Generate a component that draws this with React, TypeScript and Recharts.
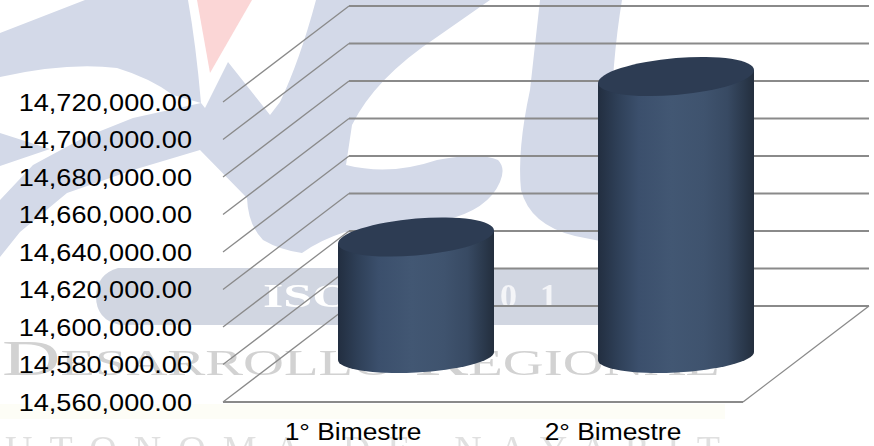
import { BarChart, Bar, XAxis, YAxis, CartesianGrid } from "recharts";

const periods = ["1° Bimestre", "2° Bimestre"];
const amounts = [14622400, 14708000];
const axisTicks = [14560000, 14580000, 14600000, 14620000, 14640000, 14660000, 14680000, 14700000, 14720000];

const chartData = periods.map((period, i) => ({ period, amount: amounts[i] }));

// how far the back wall sits from the front plane
const DEPTH_X = 126;
const DEPTH_Y = 96;
const TEXT_STRETCH = 1.13;

function formatAmount(v: number) {
    return v.toLocaleString("en-US", { minimumFractionDigits: 2, maximumFractionDigits: 2 });
}

function GridLine(props: any) {
    const { x1, x2, y1, y, height } = props;
    const isFloor = Math.abs(y1 - (y + height)) < 1;
    const backY = y1 - DEPTH_Y;
    return (
        <g fill="none" stroke="#8a8a8a">
            <path d={`M${x1} ${y1}L${x1 + DEPTH_X} ${backY}`} strokeWidth={1.3} />
            <path d={`M${x1 + DEPTH_X} ${backY}L${x2 + DEPTH_X} ${backY}`} strokeWidth={2} />
            {isFloor && (
                <>
                    <path d={`M${x1} ${y1}L${x2} ${y1}`} strokeWidth={2} />
                    <path d={`M${x2} ${y1}L${x2 + DEPTH_X} ${backY}`} strokeWidth={1.3} />
                </>
            )}
        </g>
    );
}

function YTick({ x, y, payload }: any) {
    return (
        <text transform={`translate(${x} ${y + 8.5}) scale(${TEXT_STRETCH} 1)`} textAnchor="end" fontSize={24} fontFamily="Liberation Sans" fill="#000">
            {formatAmount(payload.value)}
        </text>
    );
}

function XTick({ x, y, payload }: any) {
    return (
        <text transform={`translate(${x} ${y + 30}) scale(1.1 1)`} textAnchor="middle" fontSize={24} fontFamily="Liberation Sans" fill="#000">
            {payload.value}
        </text>
    );
}

// bars stand halfway into the floor, hence half the depth offset
function Cylinder({ x, y, width, height }: any) {
    const cx = x + width / 2 + DEPTH_X / 2;
    const top = y - DEPTH_Y / 2;
    const bottom = top + height + 2;
    const rx = width / 2;
    const topTilt = -4.8;
    const bottomTilt = -3;
    const topSlope = Math.tan((topTilt * Math.PI) / 180) * rx;
    const bottomSlope = Math.tan((bottomTilt * Math.PI) / 180) * rx;
    return (
        <g>
            <ellipse transform={`translate(${cx} ${bottom}) skewY(${bottomTilt})`} rx={rx} ry={16.5} fill="url(#cylinderSide)" />
            <path
                d={`M${cx - rx} ${top - topSlope}L${cx + rx} ${top + topSlope}L${cx + rx} ${bottom + bottomSlope}L${cx - rx} ${bottom - bottomSlope}Z`}
                fill="url(#cylinderSide)"
            />
            <ellipse transform={`translate(${cx} ${top}) skewY(${topTilt})`} rx={rx} ry={18.4} fill="#2d3c53" />
        </g>
    );
}

// pale logo and lettering behind the plot
function Watermark() {
    return (
        <svg width={874} height={446} style={{ position: "absolute", left: 0, top: 0 }}>
            <defs>
                <filter id="soft">
                    <feGaussianBlur stdDeviation={0.6} />
                </filter>
            </defs>
            <rect x={0} y={404} width={725} height={15} fill="#fdfdf6" />
            <path d="M197 0L252 0L210 73Z" fill="#fbd6d6" />
            <g fill="#d3d9e8">
                <path d="M0 33L85 0L188 0Q196 45 201 103L173 95Q150 78 117 68Q67 62 0 77Z" />
                <path d="M0 133L50 149L0 166Z" />
                <path d="M201 103L205 108L228 62L270 115L280 102Q300 60 316 0L490 0L437 37Q375 78 352 125L346 165Q390 176 437 160Q480 152 498 160Q506 168 500 182Q488 210 445 220Q400 245 345 232Q320 240 302 253Q280 250 263 240Q248 225 247 198L200 150L133 170L67 193L20 232L0 257L0 200L33 165L83 138L133 118Z" />
                <path d="M540 0L622 0Q612 60 610 140L600 241L575 236Q530 225 521 190Q517 150 530 90Z" />
            </g>
            <path d="M118 268L600 268L600 325L120 325Q96 320 96 296Q97 274 118 268Z" fill="#d1d6e1" />
            <g filter="url(#soft)">
                <text x={263} y={307} fontFamily="Liberation Serif" fontWeight="bold" fontSize={34} textLength={90} lengthAdjust="spacingAndGlyphs" fill="#fff">
                    ISO
                </text>
                <text x={420} y={307} fontFamily="Liberation Serif" fontWeight="bold" fontSize={34} textLength={137} lengthAdjust="spacing" fill="#f4f5f8">
                    9001
                </text>
                <text x={2} y={375} fontFamily="Liberation Serif" fontSize={50} textLength={718} lengthAdjust="spacingAndGlyphs" fontVariant="small-caps" fill="#d2d2d2">
                    Desarrollo Regional
                </text>
                <text x={5} y={462} fontFamily="Liberation Serif" fontSize={38} textLength={715} lengthAdjust="spacing" fill="#e0e0e0">
                    UTONOMA DE NAYARIT
                </text>
            </g>
        </svg>
    );
}

export default function App() {
    return (
        <div style={{ position: "absolute", left: 0, top: 0, width: 874, height: 446, overflow: "hidden", background: "#fff" }}>
            <Watermark />
            <div style={{ position: "absolute", left: 0, top: 0 }}>
                <BarChart width={874} height={446} data={chartData} margin={{ top: 102, right: 131, bottom: 0, left: 0 }} barSize={156}>
                    <defs>
                        <linearGradient id="cylinderSide" x1="0" y1="0" x2="1" y2="0">
                            <stop offset="0%" stopColor="#222e40" />
                            <stop offset="13%" stopColor="#2f4058" />
                            <stop offset="26%" stopColor="#3b4f6c" />
                            <stop offset="47%" stopColor="#425773" />
                            <stop offset="68%" stopColor="#3f536e" />
                            <stop offset="83%" stopColor="#384a63" />
                            <stop offset="94%" stopColor="#2a384b" />
                            <stop offset="100%" stopColor="#232e3d" />
                        </linearGradient>
                    </defs>
                    <CartesianGrid vertical={false} horizontal={(p: any) => <GridLine key={p.index} {...p} />} />
                    <XAxis dataKey="period" height={44} axisLine={false} tickLine={false} tick={<XTick />} interval={0} />
                    <YAxis
                        width={223}
                        domain={[axisTicks[0], axisTicks[axisTicks.length - 1]]}
                        ticks={axisTicks}
                        axisLine={false}
                        tickLine={false}
                        tick={<YTick />}
                        tickMargin={25}
                        interval={0}
                    />
                    <Bar dataKey="amount" shape={<Cylinder />} isAnimationActive={false} />
                </BarChart>
            </div>
        </div>
    );
}
